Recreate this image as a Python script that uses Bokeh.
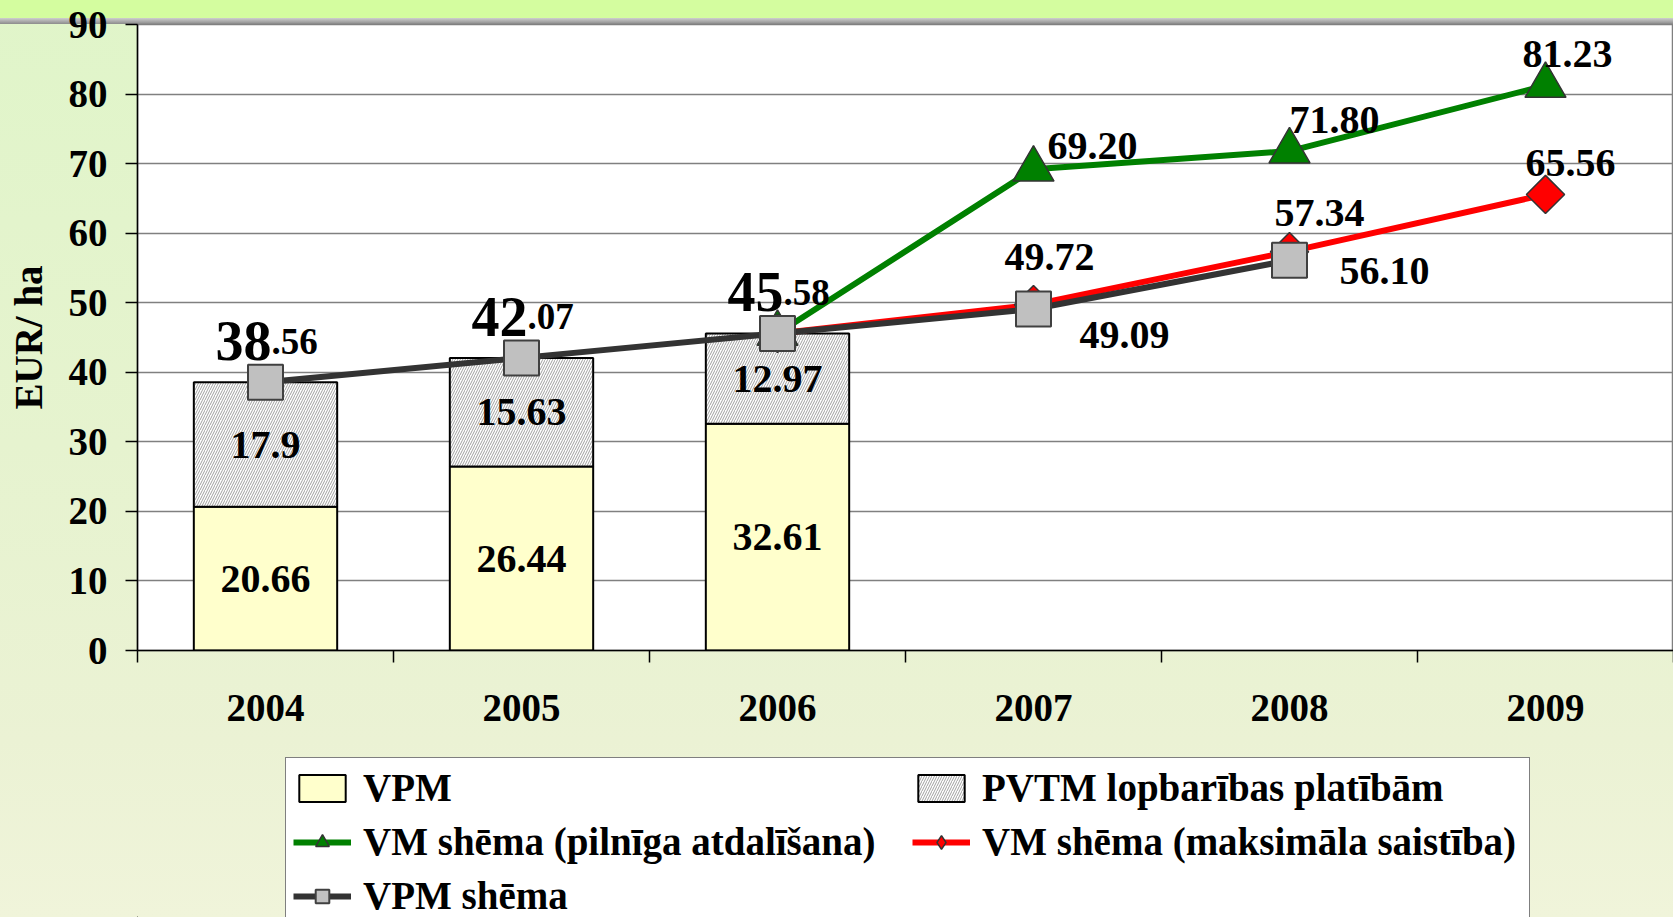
from bokeh.plotting import figure
from bokeh.layouts import column
from bokeh.models import (Range1d, LinearAxis, FixedTicker,
                          Legend, LegendItem, ColumnDataSource)
from bokeh.core.properties import value
from bokeh.embed import file_html
from bokeh.resources import INLINE

# ---------------- data ----------------
years = ["2004", "2005", "2006", "2007", "2008", "2009"]
bar_years = ["2004", "2005", "2006"]
vpm = [20.66, 26.44, 32.61]
pvtm = [17.9, 15.63, 12.97]

vpm_scheme_years = ["2004", "2005", "2006", "2007", "2008"]
vpm_scheme = [38.56, 42.07, 45.58, 49.09, 56.10]

vm_full_years = ["2006", "2007", "2008", "2009"]
vm_full = [45.58, 69.20, 71.80, 81.23]

vm_max_years = ["2006", "2007", "2008", "2009"]
vm_max = [45.58, 49.72, 57.34, 65.56]

y_ticks = [0, 10, 20, 30, 40, 50, 60, 70, 80, 90]
y_label = "EUR/ ha"
legend_labels = ["VPM", "PVTM lopbarības platībām", "VM shēma (pilnīga atdalīšana)",
                 "VM shēma (maksimāla saistība)", "VPM shēma"]

# category -> slot centre on a numeric axis
pos = {y: i + 0.5 for i, y in enumerate(years)}
def px(ys):
    return [pos[y] for y in ys]

# ---------------- styles ----------------
FONT = "Liberation Serif"
FS = "39px"
LFS = "40px"
GREEN = "#008000"
RED = "#ff0000"
DARK = "#333333"
W = 1673
H1 = 740
H2 = 917 - H1
LEFT = 137

p = figure(width=W, height=H1,
           x_range=Range1d(0, len(years)),
           y_range=Range1d(0, 90),
           x_axis_location=None, y_axis_location="left",
           output_backend="svg", toolbar_location=None,
           min_border_left=LEFT, min_border_right=0, min_border_top=24, min_border_bottom=H1 - 650)

p.border_fill_color = None
p.background_fill_color = "white"
p.outline_line_color = "#808080"
p.outline_line_width = 1.5
p.styles = {"background": "linear-gradient(to bottom, #d4fd9f 0px, #d4fd9f 18px, #cfcfcf 18px, #8c8c8c 24px, transparent 24px), "
                          "linear-gradient(to bottom, #e0f5c9 0%, #e6f3cf 60%, #ebf2d4 100%)"}

# y axis
yax = p.yaxis[0]
yax.ticker = FixedTicker(ticks=y_ticks)
yax.axis_label = y_label
yax.axis_label_text_font = FONT
yax.axis_label_text_font_style = "bold"
yax.axis_label_text_font_size = FS
yax.axis_label_text_color = "black"
yax.axis_label_standoff = 16
yax.major_label_text_font = FONT
yax.major_label_text_font_style = "bold"
yax.major_label_text_font_size = FS
yax.major_label_text_color = "black"
yax.major_label_standoff = 18
yax.major_tick_out = 12
yax.major_tick_in = 0
yax.minor_tick_line_color = None
yax.axis_line_color = "black"
yax.axis_line_width = 1.5
yax.major_tick_line_color = "black"
yax.major_tick_line_width = 1.5

# x axis: ticks at slot boundaries
tick_ax = LinearAxis(ticker=FixedTicker(ticks=list(range(len(years) + 1))))
tick_ax.major_tick_out = 12
tick_ax.major_tick_in = 0
tick_ax.major_tick_line_color = "black"
tick_ax.major_tick_line_width = 1.5
tick_ax.minor_tick_line_color = None
tick_ax.axis_line_color = "black"
tick_ax.axis_line_width = 1.5
tick_ax.major_label_text_color = None
tick_ax.major_label_text_font_size = "1px"
tick_ax.major_label_standoff = 0
p.add_layout(tick_ax, "below")

# x axis: year labels at slot centres
lab_ax = LinearAxis(ticker=FixedTicker(ticks=px(years)),
                    major_label_overrides={pos[y]: y for y in years})
lab_ax.axis_line_color = None
lab_ax.major_tick_line_color = None
lab_ax.minor_tick_line_color = None
lab_ax.major_label_text_font = FONT
lab_ax.major_label_text_font_style = "bold"
lab_ax.major_label_text_font_size = FS
lab_ax.major_label_text_color = "black"
lab_ax.major_label_standoff = 26
p.add_layout(lab_ax, "below")

p.xgrid.visible = False
p.ygrid.ticker = FixedTicker(ticks=y_ticks)
p.ygrid.grid_line_color = "#808080"
p.ygrid.grid_line_width = 1.5

# ---------------- bars ----------------
bars = ColumnDataSource(dict(
    x=px(bar_years), vpm=vpm, pvtm=pvtm,
    top=[a + b for a, b in zip(vpm, pvtm)],
    mid1=[a / 2 for a in vpm],
    mid2=[a + b / 2 for a, b in zip(vpm, pvtm)],
    t1=[str(a) for a in vpm], t2=[str(b) for b in pvtm]))

VPM_STYLE = dict(fill_color="#ffffcc", line_color="black", line_width=2)
PVTM_STYLE = dict(fill_color="white", hatch_pattern="/", hatch_color="#a0a0a0",
                  hatch_scale=5, hatch_weight=1, line_color="black", line_width=2)
p.vbar(x="x", bottom=0, top="vpm", width=0.56, source=bars, **VPM_STYLE)
p.vbar(x="x", bottom="vpm", top="top", width=0.56, source=bars, **PVTM_STYLE)

txt = dict(text_font=value(FONT), text_font_style="bold", text_font_size=LFS,
           text_color="black", text_align="center", text_baseline="middle")
p.text(x="x", y="mid1", text="t1", source=bars, **txt)
p.text(x="x", y="mid2", text="t2", source=bars, **txt)

# ---------------- lines ----------------
G_LINE = dict(line_color=GREEN, line_width=6)
R_LINE = dict(line_color=RED, line_width=6)
K_LINE = dict(line_color=DARK, line_width=6)
G_MARK = dict(marker="triangle", size=41, fill_color=GREEN, line_color="#333333", line_width=1.5)
R_MARK = dict(marker="square", angle=0.785398, size=27, fill_color=RED, line_color="#333333", line_width=1.5)
R_MARK_LEG = dict(marker="diamond", size=30, fill_color=RED, line_color="#333333", line_width=1.5)
K_MARK = dict(marker="square", size=35, fill_color="#c0c0c0", line_color="#404040", line_width=2)

g_src = ColumnDataSource(dict(x=px(vm_full_years), y=vm_full))
r_src = ColumnDataSource(dict(x=px(vm_max_years), y=vm_max))
k_src = ColumnDataSource(dict(x=px(vpm_scheme_years), y=vpm_scheme))

p.line("x", "y", source=g_src, **G_LINE)
p.line("x", "y", source=r_src, **R_LINE)
p.line("x", "y", source=k_src, **K_LINE)
p.scatter("x", "y", source=g_src, **G_MARK)
p.scatter("x", "y", source=r_src, **R_MARK)
p.scatter("x", "y", source=k_src, **K_MARK)

# ---------------- value labels ----------------
g_lab = ColumnDataSource(dict(x=px(vm_full_years[1:]), y=vm_full[1:],
                              t=["%.2f" % v for v in vm_full[1:]],
                              xo=[59, 45, 22], yo=[-23, -31, -32]))
r_lab = ColumnDataSource(dict(x=px(vm_max_years[1:]), y=vm_max[1:],
                              t=["%.2f" % v for v in vm_max[1:]],
                              xo=[16, 30, 25], yo=[-48, -39, -31]))
k_lab = ColumnDataSource(dict(x=px(vpm_scheme_years[3:]), y=vpm_scheme[3:],
                              t=["%.2f" % v for v in vpm_scheme[3:]],
                              xo=[91, 95], yo=[26, 11]))
for src in (g_lab, r_lab, k_lab):
    p.text(x="x", y="y", text="t", x_offset="xo", y_offset="yo", source=src, **txt)

big_vals = vpm_scheme[:3]
big_src = ColumnDataSource(dict(
    x=px(vpm_scheme_years[:3]), y=big_vals,
    a=[("%.2f" % v).split(".")[0] for v in big_vals],
    b=["." + ("%.2f" % v).split(".")[1] for v in big_vals]))
p.text(x="x", y="y", text="a", source=big_src, x_offset=6, y_offset=-41,
       text_font=value(FONT), text_font_style="bold", text_font_size="56px",
       text_color="black", text_align="right", text_baseline="alphabetic")
p.text(x="x", y="y", text="b", source=big_src, x_offset=6, y_offset=-41,
       text_font=value(FONT), text_font_style="bold", text_font_size="37px",
       text_color="black", text_align="left", text_baseline="alphabetic")

# ---------------- legend strip (second figure under the chart) ----------------
p2 = figure(width=W, height=H2, x_range=Range1d(0, 1), y_range=Range1d(0, 1),
            x_axis_location=None, y_axis_location=None,
            output_backend="svg", toolbar_location=None,
            min_border_left=LEFT, min_border_right=0, min_border_top=0, min_border_bottom=0)
p2.border_fill_color = None
p2.background_fill_color = None
p2.outline_line_color = None
p2.xgrid.visible = False
p2.ygrid.visible = False
p2.styles = {"background": "linear-gradient(to bottom, #ebf2d4 0%, #f0f4da 100%)"}

# legend-only renderers: one point placed far outside the visible range
hidden = lambda: ColumnDataSource(dict(x=[-100], y=[-100], top=[-100], bottom=[-101]))
l_vpm = p2.vbar(x="x", bottom="bottom", top="top", width=0.5, source=hidden(), **VPM_STYLE)
l_pvtm = p2.vbar(x="x", bottom="bottom", top="top", width=0.5, source=hidden(), **PVTM_STYLE)
e_g, e_r, e_k = hidden(), hidden(), hidden()
l_gl = p2.line("x", "y", source=e_g, **G_LINE)
l_gs = p2.scatter("x", "y", source=e_g, **G_MARK)
l_rl = p2.line("x", "y", source=e_r, **R_LINE)
l_rs = p2.scatter("x", "y", source=e_r, **R_MARK_LEG)
l_kl = p2.line("x", "y", source=e_k, **K_LINE)
l_ks = p2.scatter("x", "y", source=e_k, **K_MARK)

items = [
    LegendItem(label=legend_labels[0], renderers=[l_vpm]),
    LegendItem(label=legend_labels[2], renderers=[l_gl, l_gs]),
    LegendItem(label=legend_labels[4], renderers=[l_kl, l_ks]),
    LegendItem(label=legend_labels[1], renderers=[l_pvtm]),
    LegendItem(label=legend_labels[3], renderers=[l_rl, l_rs]),
]
legend = Legend(items=items, ncols=2, location=(285 - LEFT, -9),
                label_text_font=FONT, label_text_font_style="bold",
                label_text_font_size=FS, label_text_color="black",
                border_line_color="black", border_line_width=1.5,
                background_fill_color="white", background_fill_alpha=1.0,
                padding=7, spacing=9, margin=0, label_width=540,
                glyph_width=58, glyph_height=34, label_standoff=12)
p2.add_layout(legend)

layout = column(p, p2, spacing=0)
open("out.html", "w").write(file_html(layout, INLINE))
